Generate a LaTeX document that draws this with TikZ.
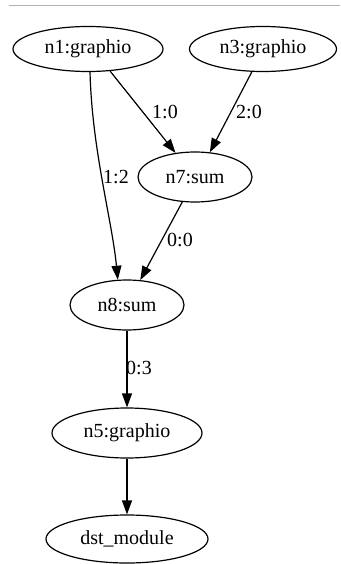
\documentclass[tikz,border=0pt]{standalone}
\usepackage{fontspec}
\setmainfont{Liberation Serif}
\usetikzlibrary{shapes.geometric,arrows.meta}
\begin{document}
\begin{tikzpicture}[x=1pt,y=-1pt,
 every node/.style={font=\fontsize{20}{24}\selectfont},
 nd/.style={ellipse,draw,line width=1.2pt,inner sep=0pt},
 conn/.style={line width=1.2pt,-{Triangle[length=14pt,width=10pt]}},
 lbl/.style={inner sep=0pt}]
\useasboundingbox (0,0) rectangle (340,564);
\draw[black!30,line width=1pt] (9,6) -- (340,6);
\node[nd,minimum width=150pt,minimum height=45pt] (n1) at (88,49) {n1:graphio};
\node[nd,minimum width=147pt,minimum height=45pt] (n3) at (263,49) {n3:graphio};
\node[nd,minimum width=114pt,minimum height=50pt] (n7) at (195,177) {n7:sum};
\node[nd,minimum width=114pt,minimum height=50pt] (n8) at (127,305) {n8:sum};
\node[nd,minimum width=150pt,minimum height=50pt] (n5) at (127,433) {n5:graphio};
\node[nd,minimum width=162pt,minimum height=48pt] (dst) at (127,539) {dst\_module};
\draw[conn] (n1.-45) -- (n7.129);
\draw[conn] (n3.-116) -- (n7.59);
\draw[conn] (n1.-85) .. controls (92,150) and (112,220) .. (n8.110);
\draw[conn] (n7.-117) -- (n8.62);
\draw[conn] (n8) -- (n5);
\draw[conn] (n5) -- (dst);
\node[lbl] (l10) at (165,112) {1:0};
\node[lbl] (l20) at (249,112) {2:0};
\node[lbl] (l12) at (116,177) {1:2};
\node[lbl] (l00) at (180,240) {0:0};
\node[lbl] (l03) at (139,368) {0:3};
\end{tikzpicture}
\end{document}
